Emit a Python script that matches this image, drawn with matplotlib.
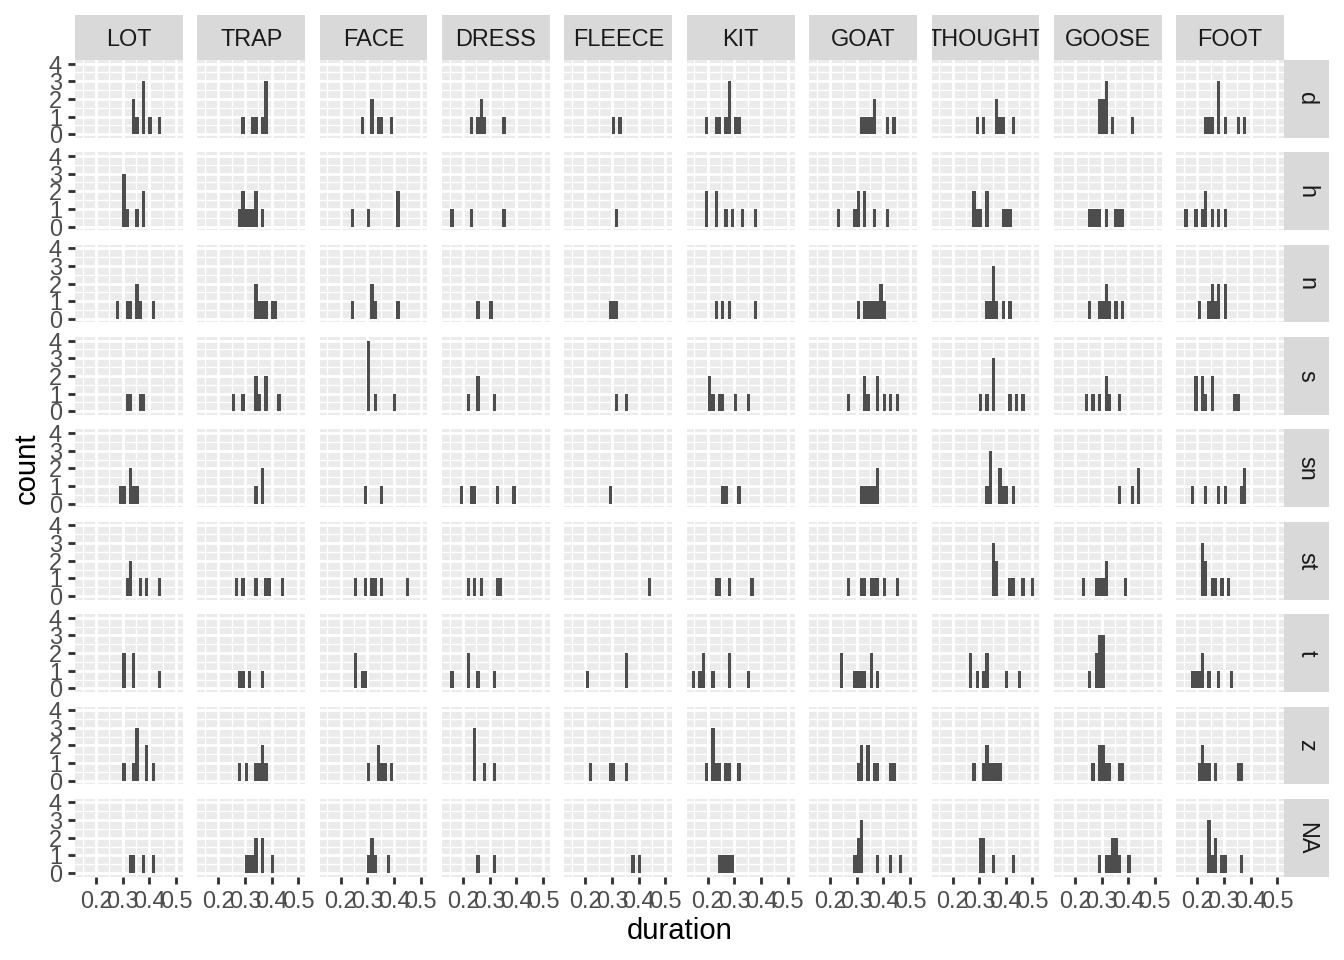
import numpy as np
import matplotlib
matplotlib.use("Agg")
import matplotlib.pyplot as plt

plt.rcParams['font.family'] = ['Liberation Sans', 'DejaVu Sans']

vowels = ["LOT", "TRAP", "FACE", "DRESS", "FLEECE", "KIT", "GOAT", "THOUGHT", "GOOSE", "FOOT"]
consonants = ["d", "h", "n", "s", "sn", "st", "t", "z", "NA"]

# durations per panel: each row = one following consonant, 10 lists in vowel order
dur_d = [
    [0.342, 0.342, 0.354, 0.378, 0.378, 0.378, 0.403, 0.440],
    [0.293, 0.329, 0.342, 0.366, 0.378, 0.378, 0.378],
    [0.280, 0.317, 0.317, 0.342, 0.354, 0.391],
    [0.231, 0.256, 0.268, 0.268, 0.280, 0.354],
    [0.305, 0.329],
    [0.195, 0.231, 0.244, 0.268, 0.280, 0.280, 0.280, 0.305, 0.317],
    [0.317, 0.329, 0.342, 0.354, 0.366, 0.366, 0.415, 0.440],
    [0.293, 0.317, 0.366, 0.366, 0.378, 0.391, 0.427],
    [0.293, 0.293, 0.305, 0.305, 0.317, 0.317, 0.317, 0.342, 0.415],
    [0.231, 0.244, 0.256, 0.280, 0.280, 0.280, 0.305, 0.354, 0.378],
]
dur_h = [
    [0.305, 0.305, 0.305, 0.317, 0.354, 0.378, 0.378],
    [0.280, 0.293, 0.293, 0.305, 0.317, 0.329, 0.342, 0.342, 0.366],
    [0.244, 0.305, 0.415, 0.415],
    [0.158, 0.231, 0.354],
    [0.317],
    [0.195, 0.195, 0.231, 0.231, 0.268, 0.293, 0.329, 0.378],
    [0.231, 0.293, 0.305, 0.305, 0.329, 0.329, 0.366, 0.415],
    [0.280, 0.280, 0.293, 0.305, 0.329, 0.329, 0.391, 0.403, 0.415],
    [0.256, 0.268, 0.280, 0.293, 0.317, 0.354, 0.366, 0.378],
    [0.158, 0.195, 0.219, 0.231, 0.231, 0.256, 0.280, 0.305],
]
dur_n = [
    [0.280, 0.317, 0.329, 0.354, 0.354, 0.366, 0.415],
    [0.342, 0.342, 0.354, 0.366, 0.378, 0.403, 0.415],
    [0.244, 0.317, 0.317, 0.329, 0.415],
    [0.256, 0.305],
    [0.293, 0.305, 0.317],
    [0.231, 0.256, 0.280, 0.378],
    [0.305, 0.329, 0.342, 0.354, 0.366, 0.378, 0.391, 0.391, 0.403],
    [0.329, 0.342, 0.354, 0.354, 0.354, 0.366, 0.391, 0.415],
    [0.256, 0.293, 0.305, 0.317, 0.317, 0.329, 0.354, 0.378],
    [0.207, 0.244, 0.256, 0.256, 0.268, 0.280, 0.280, 0.305, 0.305],
]
dur_s = [
    [0.317, 0.329, 0.366, 0.378],
    [0.256, 0.293, 0.342, 0.342, 0.354, 0.378, 0.378, 0.427],
    [0.305, 0.305, 0.305, 0.305, 0.329, 0.403],
    [0.219, 0.256, 0.256, 0.317],
    [0.317, 0.354],
    [0.207, 0.207, 0.219, 0.244, 0.256, 0.305, 0.354],
    [0.268, 0.329, 0.329, 0.342, 0.378, 0.378, 0.403, 0.427, 0.452],
    [0.305, 0.329, 0.354, 0.354, 0.354, 0.415, 0.440, 0.464],
    [0.244, 0.268, 0.293, 0.317, 0.317, 0.329, 0.366],
    [0.195, 0.195, 0.219, 0.219, 0.231, 0.256, 0.256, 0.342, 0.354],
]
dur_sn = [
    [0.293, 0.305, 0.329, 0.329, 0.342, 0.354],
    [0.342, 0.366, 0.366],
    [0.293, 0.354],
    [0.195, 0.231, 0.244, 0.329, 0.391],
    [0.293],
    [0.256, 0.268, 0.317],
    [0.317, 0.329, 0.342, 0.354, 0.366, 0.378, 0.378],
    [0.329, 0.342, 0.342, 0.342, 0.378, 0.378, 0.391, 0.403, 0.427],
    [0.366, 0.415, 0.440, 0.440],
    [0.183, 0.231, 0.280, 0.305, 0.366, 0.378, 0.378],
]
dur_st = [
    [0.317, 0.329, 0.329, 0.366, 0.391, 0.440],
    [0.268, 0.293, 0.342, 0.378, 0.391, 0.440],
    [0.256, 0.293, 0.317, 0.329, 0.354, 0.452],
    [0.219, 0.244, 0.268, 0.329, 0.342],
    [0.440],
    [0.231, 0.244, 0.280, 0.366],
    [0.268, 0.317, 0.329, 0.354, 0.366, 0.378, 0.403, 0.452],
    [0.354, 0.354, 0.354, 0.366, 0.366, 0.415, 0.427, 0.464, 0.501],
    [0.231, 0.280, 0.293, 0.305, 0.317, 0.317, 0.391],
    [0.219, 0.219, 0.219, 0.231, 0.231, 0.256, 0.268, 0.293, 0.317],
]
dur_t = [
    [0.305, 0.305, 0.342, 0.342, 0.440],
    [0.280, 0.293, 0.317, 0.366],
    [0.256, 0.256, 0.280, 0.293],
    [0.158, 0.219, 0.219, 0.256, 0.317],
    [0.207, 0.354, 0.354],
    [0.146, 0.170, 0.183, 0.183, 0.219, 0.280, 0.280, 0.354],
    [0.244, 0.244, 0.293, 0.305, 0.317, 0.329, 0.354, 0.354, 0.378],
    [0.268, 0.268, 0.293, 0.317, 0.329, 0.329, 0.403, 0.452],
    [0.256, 0.280, 0.280, 0.293, 0.293, 0.293, 0.305, 0.305, 0.305],
    [0.183, 0.195, 0.207, 0.219, 0.219, 0.244, 0.280, 0.329],
]
dur_z = [
    [0.305, 0.342, 0.354, 0.354, 0.354, 0.391, 0.391, 0.415],
    [0.280, 0.305, 0.342, 0.354, 0.366, 0.366, 0.378],
    [0.305, 0.342, 0.342, 0.354, 0.366, 0.391],
    [0.244, 0.244, 0.244, 0.280, 0.317],
    [0.219, 0.293, 0.305, 0.354],
    [0.195, 0.219, 0.219, 0.219, 0.231, 0.244, 0.268, 0.280, 0.317],
    [0.305, 0.317, 0.317, 0.342, 0.342, 0.366, 0.378, 0.427, 0.440],
    [0.280, 0.317, 0.329, 0.329, 0.342, 0.354, 0.366, 0.378],
    [0.268, 0.293, 0.293, 0.305, 0.305, 0.317, 0.329, 0.366, 0.378],
    [0.207, 0.219, 0.219, 0.231, 0.244, 0.268, 0.354, 0.366],
]
dur_na = [
    [0.329, 0.342, 0.378, 0.415],
    [0.305, 0.317, 0.329, 0.342, 0.342, 0.366, 0.366, 0.403],
    [0.305, 0.317, 0.317, 0.329, 0.378],
    [0.256, 0.317],
    [0.378, 0.403],
    [0.244, 0.256, 0.268, 0.280, 0.293],
    [0.293, 0.305, 0.305, 0.317, 0.317, 0.317, 0.378, 0.427, 0.464],
    [0.305, 0.305, 0.317, 0.317, 0.354, 0.427],
    [0.293, 0.317, 0.329, 0.342, 0.342, 0.354, 0.354, 0.366, 0.403],
    [0.244, 0.244, 0.244, 0.256, 0.268, 0.268, 0.293, 0.305, 0.366],
]
rows = [dur_d, dur_h, dur_n, dur_s, dur_sn, dur_st, dur_t, dur_z, dur_na]

x_major = [0.2, 0.3, 0.4, 0.5]
x_minor = [0.15, 0.25, 0.35, 0.45]
x_labels = ["0.2", "0.3", "0.4", "0.5"]
y_major = [0, 1, 2, 3, 4]
y_minor = [0.5, 1.5, 2.5, 3.5]

# ggplot-like binning: 30 bins, first centred on min, last on max
all_vals = np.concatenate([np.asarray(v, float) for r in rows for v in r])
lo, hi = all_vals.min(), all_vals.max()
bw = (hi - lo) / 29
edges = lo - bw / 2 + bw * np.arange(31)
span = edges[-1] - edges[0]
xlim = (edges[0] - 0.05 * span, edges[-1] + 0.05 * span)
ymax = max(np.histogram(v, bins=edges)[0].max() for r in rows for v in r)
ylim = (-0.05 * ymax, 1.05 * ymax)

W, H = 1344, 960
fig = plt.figure(figsize=(W / 100, H / 100), dpi=100)
fig.patch.set_facecolor("white")


def add_px(left, top, w, h):
    return fig.add_axes([left / W, 1 - (top + h) / H, w / W, h / H])


L, T = 75.0, 60.0
PW, PH = 107.7, 77.7
GAP = 14.67
STRIP = 45.3
FS = 16.9  # 8.8pt at 192dpi
TCOL = "#4D4D4D"

for j, (cons, row) in enumerate(zip(consonants, rows)):
    for i, (vow, vals) in enumerate(zip(vowels, row)):
        ax = add_px(L + i * (PW + GAP), T + j * (PH + GAP), PW, PH)
        ax.set_facecolor("#EBEBEB")
        ax.hist(vals, bins=edges, color="#4D4D4D", linewidth=0, zorder=3)
        ax.set_xlim(*xlim)
        ax.set_ylim(*ylim)
        ax.set_xticks(x_major)
        ax.set_xticks(x_minor, minor=True)
        ax.set_yticks(y_major)
        ax.set_yticks(y_minor, minor=True)
        ax.set_axisbelow(True)
        ax.grid(which="major", color="white", linewidth=2.05, zorder=0)
        ax.grid(which="minor", color="white", linewidth=1.0, zorder=0)
        for s in ax.spines.values():
            s.set_visible(False)
        ax.tick_params(which="minor", length=0)
        ax.tick_params(which="major", length=5.3, width=2.05, color="#333333",
                       labelsize=FS, labelcolor=TCOL, pad=4.2)
        if j == len(consonants) - 1:
            ax.set_xticklabels(x_labels)
        else:
            ax.tick_params(axis="x", which="major", length=0, labelbottom=False)
        if i == 0:
            ax.set_yticklabels([str(v) for v in y_major])
        else:
            ax.tick_params(axis="y", which="major", length=0, labelleft=False)

        if j == 0:
            sax = add_px(L + i * (PW + GAP), T - STRIP, PW, STRIP)
            sax.set_facecolor("#D9D9D9")
            sax.set_xticks([]); sax.set_yticks([])
            for s in sax.spines.values():
                s.set_visible(False)
            sax.text(0.5, 0.5, vow, ha="center", va="center_baseline", fontsize=FS,
                     color="#1A1A1A", transform=sax.transAxes, clip_on=True)
        if i == len(vowels) - 1:
            rax = add_px(L + len(vowels) * PW + (len(vowels) - 1) * GAP,
                         T + j * (PH + GAP), STRIP, PH)
            rax.set_facecolor("#D9D9D9")
            rax.set_xticks([]); rax.set_yticks([])
            for s in rax.spines.values():
                s.set_visible(False)
            rax.text(0.5, 0.5, cons, ha="center", va="center", rotation=-90,
                     fontsize=FS, color="#1A1A1A", transform=rax.transAxes,
                     clip_on=True)

panels_bottom = T + len(consonants) * PH + (len(consonants) - 1) * GAP
panels_right = L + len(vowels) * PW + (len(vowels) - 1) * GAP
fig.text((L + panels_right) / 2 / W, 1 - 931 / H, "duration", ha="center",
         va="center", fontsize=21.1, color="black")
fig.text(27 / W, 1 - ((T + panels_bottom) / 2) / H, "count", ha="center",
         va="center", rotation=90, fontsize=21.1, color="black")

fig.savefig("out.png", dpi=100, facecolor="white")
